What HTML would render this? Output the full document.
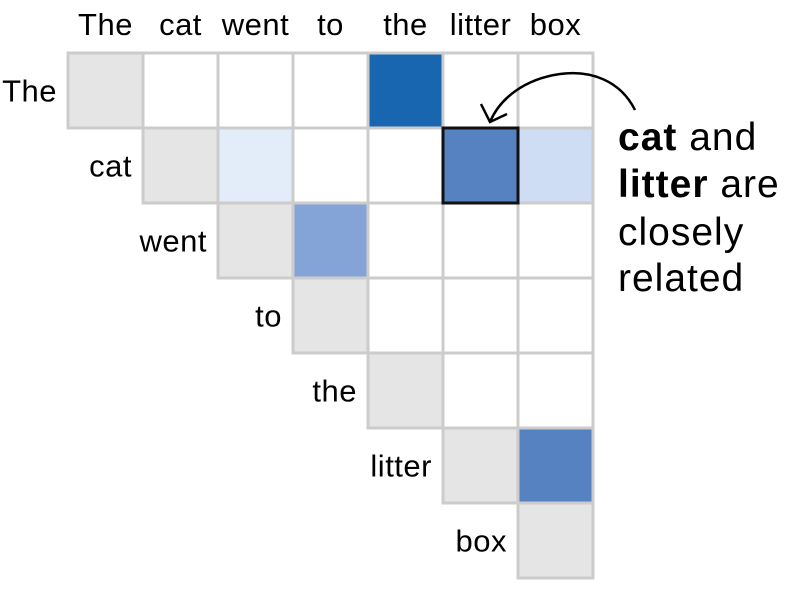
<!DOCTYPE html>
<html><head><meta charset="utf-8">
<style>
html,body{margin:0;padding:0;background:#fff;}
svg{display:block;font-family:"Liberation Sans",sans-serif;}
</style></head>
<body>
<svg id="chart" width="800" height="594" viewBox="0 0 800 594">
  <g id="cells"></g>
  <g id="labels"></g>
  <g>
    <path d="M635,110 C620,80 590,70 560,74 C525,79 500,98 490,122" fill="none" stroke="#000" stroke-width="2.5"/>
    <path d="M481,104 L490,122 L507,114" fill="none" stroke="#000" stroke-width="2.5"/>
    <text x="618" y="150" font-size="39" letter-spacing="1"><tspan font-weight="bold">cat</tspan> and</text>
    <text x="618" y="197" font-size="39" letter-spacing="1"><tspan font-weight="bold">litter</tspan> are</text>
    <text x="618" y="245" font-size="39" letter-spacing="1">closely</text>
    <text x="618" y="291" font-size="39" letter-spacing="1">related</text>
  </g>
</svg>
<script>
const tokens = ["The","cat","went","to","the","litter","box"];
// attention weights (row, col, value 0..1); diagonal shown gray
const cellRows = [0,1,1,1,2,5];
const cellCols = [4,2,5,6,3,6];
const cellValues = [0.95,0.05,0.7,0.15,0.5,0.7];
const highlightRow = 1, highlightCol = 5;

const NS = "http://www.w3.org/2000/svg";
const x0 = 68, y0 = 53, cs = 75;
const xPos = c => x0 + c*cs;
const yPos = r => y0 + r*cs;
const rampStops = [0,0.5,0.7,0.95,1];
const rampColors = [[238,245,254],[132,164,216],[86,130,194],[24,102,176],[20,96,170]];
function color(v){
  let i=0; while(i<rampStops.length-2 && v>rampStops[i+1]) i++;
  const t=(v-rampStops[i])/(rampStops[i+1]-rampStops[i]);
  const c=rampColors[i].map((a,k)=>Math.round(a+(rampColors[i+1][k]-a)*t));
  return `rgb(${c[0]},${c[1]},${c[2]})`;
}
function valueAt(r,c){
  for(let i=0;i<cellRows.length;i++) if(cellRows[i]===r&&cellCols[i]===c) return cellValues[i];
  return null;
}
const cellsG = document.getElementById('cells');
const labelsG = document.getElementById('labels');
const n = tokens.length;
for(let r=0;r<n;r++){
  for(let c=r;c<n;c++){
    const rect = document.createElementNS(NS,'rect');
    rect.setAttribute('x',xPos(c)); rect.setAttribute('y',yPos(r));
    rect.setAttribute('width',cs); rect.setAttribute('height',cs);
    const v = valueAt(r,c);
    let fill = '#fff';
    if(r===c) fill = '#e5e5e5'; else if(v!==null) fill = color(v);
    rect.setAttribute('fill',fill);
    rect.setAttribute('stroke','#cccccc');
    rect.setAttribute('stroke-width','3');
    
    
    cellsG.appendChild(rect);
  }
}
const hl = document.createElementNS(NS,'rect');
hl.setAttribute('x',xPos(highlightCol)); hl.setAttribute('y',yPos(highlightRow));
hl.setAttribute('width',cs); hl.setAttribute('height',cs);
hl.setAttribute('fill','none'); hl.setAttribute('stroke','#111'); hl.setAttribute('stroke-width','3');


cellsG.appendChild(hl);

tokens.forEach((t,i)=>{
  const top = document.createElementNS(NS,'text');
  top.setAttribute('x',xPos(i)+cs/2); top.setAttribute('y',35);
  top.setAttribute('text-anchor','middle'); top.setAttribute('font-size','31');
  top.setAttribute('letter-spacing','0.5');
  top.textContent = t;
  
  
  labelsG.appendChild(top);
  const side = document.createElementNS(NS,'text');
  side.setAttribute('x',xPos(i)-11); side.setAttribute('y',yPos(i)+cs/2+11);
  side.setAttribute('text-anchor','end'); side.setAttribute('font-size','31');
  side.setAttribute('letter-spacing','0.5');
  side.textContent = t;
  
  
  labelsG.appendChild(side);
});
</script>
</body></html>
